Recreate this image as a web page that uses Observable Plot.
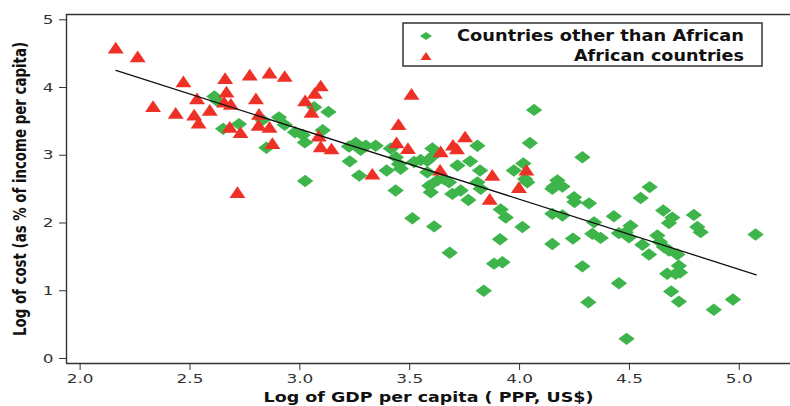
<!DOCTYPE html>
<html>
<head>
<meta charset="utf-8">
<script src="https://cdn.jsdelivr.net/npm/d3@7"></script>
<script src="https://cdn.jsdelivr.net/npm/@observablehq/plot@0.6"></script>
<style>
  html, body { margin: 0; padding: 0; background: #fff; }
  #wrap { position: relative; width: 790px; height: 406px; overflow: hidden; font-family: "DejaVu Sans", Verdana, sans-serif; }
  #legend { position: absolute; left: 402px; top: 22px; }
</style>
</head>
<body>
<div id="wrap"></div>
<script>
// ---- Data ----
const africaX = [2.162,2.262,2.332,2.435,2.470,2.519,2.539,2.532,2.590,2.660,2.666,2.655,2.686,2.681,2.730,2.716,2.772,2.800,2.814,2.812,2.862,2.875,2.862,2.931,3.024,3.053,3.068,3.095,3.086,3.095,3.144,3.508,3.330,3.449,3.440,3.492,3.641,3.638,3.697,3.715,3.752,3.876,3.864,4.031,3.997];
const africaY = [4.59,4.46,3.725,3.627,4.09,3.60,3.48,3.84,3.67,4.14,3.94,3.79,3.76,3.42,3.34,2.455,4.19,3.84,3.61,3.45,3.42,3.18,4.22,4.17,3.81,3.64,3.92,4.03,3.29,3.13,3.10,3.907,2.727,3.46,3.19,3.105,3.056,2.786,3.155,3.10,3.277,2.71,2.357,2.786,2.53];

const otherX = [2.611,2.625,2.651,2.723,2.830,2.848,2.905,2.931,2.978,3.013,3.023,3.024,3.065,3.104,3.130,3.224,3.254,3.277,3.300,3.345,3.227,3.270,3.395,3.414,3.437,3.451,3.459,3.436,3.520,3.550,3.580,3.603,3.610,3.580,3.589,3.596,3.626,3.656,3.679,3.717,3.694,3.732,3.767,3.775,3.808,3.820,3.808,3.823,3.512,3.611,3.682,3.837,3.914,3.937,4.013,3.911,3.884,3.922,3.974,4.017,4.025,4.035,4.066,4.047,4.149,4.172,4.157,4.195,4.149,4.195,4.149,4.286,4.248,4.250,4.316,4.243,4.286,4.313,4.339,4.331,4.369,4.429,4.452,4.483,4.505,4.498,4.452,4.487,4.551,4.592,4.559,4.589,4.627,4.639,4.657,4.680,4.654,4.680,4.695,4.718,4.725,4.710,4.730,4.672,4.690,4.725,4.793,4.809,4.824,4.884,4.971,5.074];
const otherY = [3.868,3.80,3.39,3.46,3.52,3.11,3.56,3.45,3.34,3.30,3.19,2.62,3.71,3.37,3.64,3.13,3.18,3.08,3.14,3.14,2.91,2.70,2.775,3.10,2.97,2.87,2.80,2.48,2.90,2.93,2.92,3.10,3.00,2.75,2.55,2.455,2.63,2.65,2.60,2.85,2.43,2.48,2.34,2.91,3.14,2.775,2.60,2.505,2.07,1.95,1.56,1.00,2.20,2.08,1.94,1.76,1.40,1.42,2.775,2.88,2.65,2.60,3.67,3.18,2.505,2.63,2.54,2.54,2.135,2.11,1.69,2.97,2.38,2.31,2.29,1.77,1.36,0.83,2.01,1.84,1.78,2.10,1.85,1.865,1.96,1.79,1.11,0.29,2.37,2.53,1.68,1.535,1.815,1.72,1.645,1.595,2.185,2.00,2.08,1.535,1.37,1.25,1.27,1.25,0.99,0.84,2.12,1.94,1.865,0.72,0.87,1.83];

// fitted line end points
const fitX = [2.163, 5.077];
const fitY = [4.252, 1.235];

const xTicks = [2.0, 2.5, 3.0, 3.5, 4.0, 4.5, 5.0];
const yTicks = [0, 1, 2, 3, 4, 5];
const xDomain = [1.938, 5.233];
const yDomain = [-0.074, 5.078];

const seriesNames = ["Countries other than African", "African countries"];
const xTitle = "Log of GDP per capita ( PPP, US$)";
const yTitle = "Log of cost (as % of income per capita)";

const green = "#3db54a";
const red = "#ee3127";

// ---- Build tables ----
const others = otherX.map((x, i) => ({x, y: otherY[i]}));
const africa = africaX.map((x, i) => ({x, y: africaY[i]}));
const fit = fitX.map((x, i) => ({x, y: fitY[i]}));

// custom marker shapes (wide diamond, flat triangle)
const wideDiamond = {
  draw(ctx) {
    const w = 8.2, h = 6.2;
    ctx.moveTo(0, -h); ctx.lineTo(w, 0); ctx.lineTo(0, h); ctx.lineTo(-w, 0); ctx.closePath();
  }
};
const flatTriangle = {
  draw(ctx) {
    const w = 8.0, h = 5.85;
    ctx.moveTo(0, -h); ctx.lineTo(w, h); ctx.lineTo(-w, h); ctx.closePath();
  }
};

const chart = Plot.plot({
  width: 790,
  height: 406,
  marginLeft: 66,
  marginRight: 0,
  marginTop: 14,
  marginBottom: 43,
  style: {fontFamily: "'DejaVu Sans', Verdana, sans-serif", fontSize: "13px", color: "#333", background: "#fff"},
  x: {domain: xDomain, ticks: xTicks, tickFormat: d3.format(".1f"), tickSize: 7, tickPadding: 3, label: null},
  y: {domain: yDomain, ticks: yTicks, tickFormat: d3.format("d"), tickSize: 7, tickPadding: 6, label: null},
  marks: [
    Plot.ruleX([xDomain[0]], {stroke: "#333", strokeWidth: 1.4}),
    Plot.ruleY([yDomain[0], yDomain[1]], {stroke: "#333", strokeWidth: 1.4}),
    Plot.dot(others, {x: "x", y: "y", symbol: wideDiamond, fill: green, stroke: "none"}),
    Plot.dot(africa, {x: "x", y: "y", symbol: flatTriangle, fill: red, stroke: "none"}),
    Plot.line(fit, {x: "x", y: "y", stroke: "#111", strokeWidth: 1.3}),
    Plot.text([xTitle], {frameAnchor: "bottom", dy: 34, lineAnchor: "middle", textAnchor: "middle", fontWeight: "bold", fontSize: 14, fill: "#111"}),
    Plot.text([yTitle], {frameAnchor: "left", rotate: -90, dx: -46, lineAnchor: "middle", textAnchor: "middle", fontWeight: "bold", fontSize: 14, fill: "#111"})
  ]
});

const wrap = document.getElementById("wrap");
wrap.appendChild(chart);

// The reference's lettering is horizontally stretched: widen texts to match.
chart.querySelectorAll("text").forEach(t => {
  const s = t.textContent;
  if (s === yTitle) {
    // thicken the rotated title across (screen-horizontal) direction
    const tr = t.getAttribute("transform");
    if (tr) t.setAttribute("transform", tr + " scale(1,1.3)");
    t.setAttribute("textLength", 294);
    t.setAttribute("lengthAdjust", "spacingAndGlyphs");
    return;
  }
  let target = null;
  if (s === xTitle) target = 330;
  else {
    const L = t.getComputedTextLength();
    if (L > 0) target = L * 1.3;
  }
  if (target) {
    t.setAttribute("textLength", target);
    t.setAttribute("lengthAdjust", "spacingAndGlyphs");
  }
});

// ---- Legend (inside plot area, top right) ----
const ns = "http://www.w3.org/2000/svg";
const leg = document.createElementNS(ns, "svg");
leg.setAttribute("id", "legend");
leg.setAttribute("width", 362);
leg.setAttribute("height", 46);
const box = document.createElementNS(ns, "rect");
box.setAttribute("x", 1); box.setAttribute("y", 1);
box.setAttribute("width", 359); box.setAttribute("height", 43);
box.setAttribute("fill", "#fff"); box.setAttribute("stroke", "#333"); box.setAttribute("stroke-width", 1.5);
leg.appendChild(box);
const shapes = [
  {color: green, path: "M0,-4L6,0L0,4L-6,0Z"},
  {color: red, path: "M0,-4L5.5,4L-5.5,4Z"}
];
const legendWidths = [287, 170];
wrap.appendChild(leg);
seriesNames.forEach((name, i) => {
  const cy = 14 + i * 20;
  const p = document.createElementNS(ns, "path");
  p.setAttribute("d", shapes[i].path);
  p.setAttribute("fill", shapes[i].color);
  p.setAttribute("transform", `translate(24,${cy})`);
  leg.appendChild(p);
  const t = document.createElementNS(ns, "text");
  t.setAttribute("x", 342);
  t.setAttribute("y", cy);
  t.setAttribute("dy", "0.35em");
  t.setAttribute("text-anchor", "end");
  t.setAttribute("font-family", "'DejaVu Sans', Verdana, sans-serif");
  t.setAttribute("font-weight", "bold");
  t.setAttribute("font-size", "15px");
  t.setAttribute("fill", "#111");
  t.setAttribute("textLength", legendWidths[i]);
  t.setAttribute("lengthAdjust", "spacingAndGlyphs");
  t.textContent = name;
  leg.appendChild(t);
});
</script>
</body>
</html>
